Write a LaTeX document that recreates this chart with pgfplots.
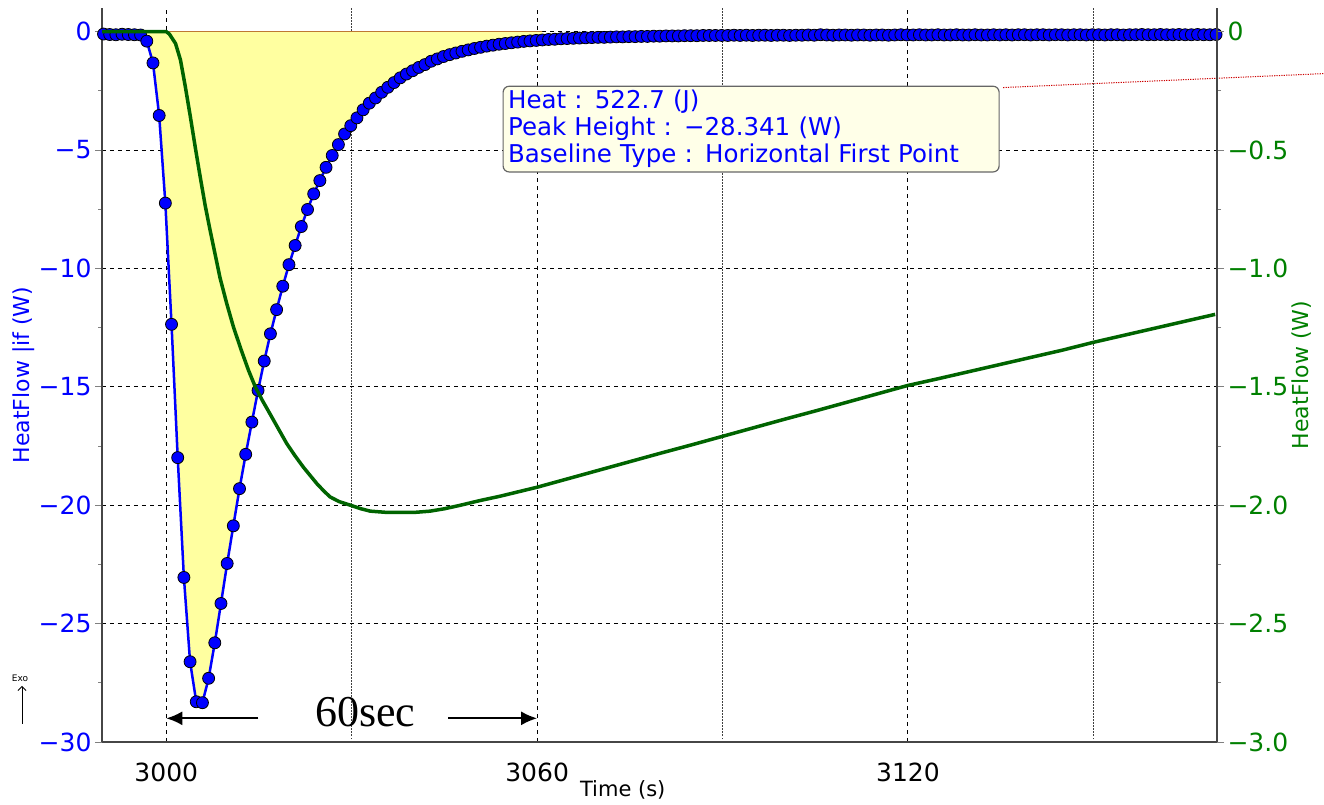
\documentclass[border=0pt]{standalone}
\usepackage{pgfplots}
\pgfplotsset{compat=1.18}
\usepackage{pgfplotstable}
\usepackage{fontspec}
\setmainfont{DejaVu Sans}
\newfontfamily\timesfont{Liberation Serif}
\usetikzlibrary{calc,arrows.meta}
\definecolor{hfblue}{RGB}{0,0,255}
\definecolor{hfgreen}{RGB}{0,100,0}
\definecolor{tickgreen}{RGB}{0,128,0}
\definecolor{fillyellow}{RGB}{255,255,160}
\definecolor{boxfill}{RGB}{255,255,232}
\definecolor{baselinebrown}{RGB}{190,120,50}
\definecolor{axisgray}{RGB}{70,70,70}

\pgfplotstableread{
t v
2989.85 -0.10
2990.85 -0.12
2991.85 -0.13
2992.85 -0.11
2993.85 -0.12
2994.85 -0.13
2995.85 -0.14
2996.85 -0.40
2997.85 -1.32
2998.85 -3.54
2999.85 -7.24
3000.85 -12.36
3001.85 -17.99
3002.85 -23.05
3003.85 -26.61
3004.85 -28.30
3005.85 -28.34
3006.85 -27.31
3007.85 -25.81
3008.85 -24.15
3009.85 -22.46
3010.85 -20.87
3011.85 -19.30
3012.85 -17.85
3013.85 -16.49
3014.85 -15.15
3015.85 -13.91
3016.85 -12.76
3017.85 -11.74
3018.85 -10.75
3019.85 -9.84
3020.85 -9.03
3021.85 -8.23
3022.85 -7.51
3023.85 -6.85
3024.85 -6.29
3025.85 -5.73
3026.85 -5.23
3027.85 -4.77
3028.85 -4.32
3029.85 -3.97
3030.85 -3.64
3031.85 -3.30
3032.85 -3.02
3033.85 -2.80
3034.85 -2.56
3035.85 -2.35
3036.85 -2.15
3037.85 -1.95
3038.85 -1.79
3039.85 -1.65
3040.85 -1.51
3041.85 -1.39
3042.85 -1.25
3043.85 -1.15
3044.85 -1.05
3045.85 -0.97
3046.85 -0.90
3047.85 -0.83
3048.85 -0.77
3049.85 -0.71
3050.85 -0.66
3051.85 -0.61
3052.85 -0.57
3053.85 -0.53
3054.85 -0.50
3055.85 -0.47
3056.85 -0.44
3057.85 -0.41
3058.85 -0.39
3059.85 -0.37
3060.85 -0.35
3061.85 -0.33
3062.85 -0.32
3063.85 -0.30
3064.85 -0.29
3065.85 -0.28
3066.85 -0.27
3067.85 -0.26
3068.85 -0.25
3069.85 -0.24
3070.85 -0.24
3071.85 -0.23
3072.85 -0.22
3073.85 -0.22
3074.85 -0.21
3075.85 -0.21
3076.85 -0.20
3077.85 -0.20
3078.85 -0.19
3079.85 -0.19
3080.85 -0.18
3081.85 -0.18
3082.85 -0.18
3083.85 -0.17
3084.85 -0.17
3085.85 -0.17
3086.85 -0.16
3087.85 -0.16
3088.85 -0.16
3089.85 -0.16
3090.85 -0.16
3091.85 -0.15
3092.85 -0.16
3093.85 -0.15
3094.85 -0.16
3095.85 -0.15
3096.85 -0.15
3097.85 -0.16
3098.85 -0.15
3099.85 -0.15
3100.85 -0.16
3101.85 -0.15
3102.85 -0.15
3103.85 -0.14
3104.85 -0.15
3105.85 -0.13
3106.85 -0.14
3107.85 -0.15
3108.85 -0.14
3109.85 -0.14
3110.85 -0.15
3111.85 -0.14
3112.85 -0.14
3113.85 -0.15
3114.85 -0.14
3115.85 -0.14
3116.85 -0.15
3117.85 -0.14
3118.85 -0.13
3119.85 -0.14
3120.85 -0.14
3121.85 -0.13
3122.85 -0.14
3123.85 -0.14
3124.85 -0.13
3125.85 -0.14
3126.85 -0.14
3127.85 -0.13
3128.85 -0.14
3129.85 -0.14
3130.85 -0.13
3131.85 -0.14
3132.85 -0.14
3133.85 -0.13
3134.85 -0.14
3135.85 -0.13
3136.85 -0.14
3137.85 -0.13
3138.85 -0.13
3139.85 -0.14
3140.85 -0.13
3141.85 -0.13
3142.85 -0.14
3143.85 -0.13
3144.85 -0.13
3145.85 -0.14
3146.85 -0.13
3147.85 -0.13
3148.85 -0.14
3149.85 -0.13
3150.85 -0.13
3151.85 -0.14
3152.85 -0.13
3153.85 -0.13
3154.85 -0.14
3155.85 -0.13
3156.85 -0.13
3157.85 -0.12
3158.85 -0.13
3159.85 -0.13
3160.85 -0.12
3161.85 -0.13
3162.85 -0.13
3163.85 -0.12
3164.85 -0.13
3165.85 -0.13
3166.85 -0.12
3167.85 -0.13
3168.85 -0.13
3169.85 -0.12
}\bluedata

\pgfplotstableread{
t v
2989.6 0
3000.0 0
3000.5 -0.01
3001.5 -0.05
3002.3 -0.12
3003.1 -0.235
3003.9 -0.36
3004.7 -0.49
3005.5 -0.615
3006.3 -0.735
3007.1 -0.84
3007.9 -0.94
3008.7 -1.04
3009.8 -1.15
3010.9 -1.25
3012.2 -1.35
3013.3 -1.43
3014.4 -1.50
3015.6 -1.56
3016.8 -1.615
3018.2 -1.68
3019.5 -1.74
3020.8 -1.79
3022.2 -1.84
3023.3 -1.875
3024.4 -1.91
3025.5 -1.94
3026.5 -1.965
3028.0 -1.985
3029.8 -2.00
3031.5 -2.015
3033.0 -2.025
3035.5 -2.03
3037.9 -2.03
3040.3 -2.03
3042.7 -2.025
3045.0 -2.015
3047.6 -2.00
3050.8 -1.98
3054.0 -1.962
3057.0 -1.943
3060.0 -1.924
3065.0 -1.888
3070.0 -1.852
3075.0 -1.816
3080.0 -1.780
3085.0 -1.745
3090.0 -1.709
3095.0 -1.673
3100.0 -1.637
3105.0 -1.602
3110.0 -1.566
3115.0 -1.530
3120.0 -1.494
3125.0 -1.465
3130.0 -1.435
3135.0 -1.405
3140.0 -1.375
3145.0 -1.345
3150.0 -1.312
3155.0 -1.282
3160.0 -1.252
3165.0 -1.222
3169.7 -1.194
}\greendata

\begin{document}
\begin{tikzpicture}
\begin{axis}[
  name=main,
  scale only axis, width=1115pt, height=734pt,
  xmin=2989.6, xmax=3170, ymin=-30, ymax=1,
  clip=false,
  axis x line*=bottom, axis y line*=left,
  axis line style={-, draw=axisgray, line width=1.5pt},
  xtick={3000,3060,3120}, xticklabels={3000,3060,3120},
  minor xtick={3030,3090,3150},
  ytick={-30,-25,-20,-15,-10,-5,0},
  yticklabels={−30,−25,−20,−15,−10,−5,0},
  minor ytick={-27.5,-22.5,-17.5,-12.5,-7.5,-2.5},
  xmajorgrids, xminorgrids, ymajorgrids,
  major grid style={black, line width=1pt, dash pattern=on 4pt off 4pt},
  minor grid style={black!75, line width=0.9pt, dash pattern=on 1.5pt off 1.5pt},
  tick align=outside,
  major tick length=7pt, minor tick length=4pt,
  xtick style={draw=none},
  ytick style={draw=gray, line width=1pt},
  ticklabel style={font=\fontsize{25}{25}\selectfont},
  xticklabel style={black, yshift=-10pt},
  yticklabel style={hfblue},
]
\coordinate (BL) at (rel axis cs:0,0);
\coordinate (TR) at (rel axis cs:1,1);
% peak area fill
\addplot[fill=fillyellow, draw=none, forget plot, restrict x to domain=2996:3061]
  table[x=t,y=v]{\bluedata} \closedcycle;
% baseline
\addplot[baselinebrown, line width=1.5pt, forget plot] coordinates {(2996.85,0) (3060.85,0)};
% residual red dotted line
\addplot[red!80!black, line width=1pt, dash pattern=on 1.2pt off 1.2pt, forget plot]
  coordinates {(3135.4,-2.36) (3187.4,-1.77)};
% HeatFlow |if
\addplot[hfblue, line width=2.5pt, mark=*, mark size=6pt,
  mark options={fill=hfblue, draw=black, line width=0.8pt}]
  table[x=t,y=v]{\bluedata};
% annotation box
\node[draw=black!60, line width=1.2pt, fill=boxfill, rounded corners=6pt,
  anchor=north west, text width=486pt, inner xsep=5pt, inner ysep=4pt,
  minimum height=85pt, align=left, text=hfblue,
  font=\fontsize{24.5}{27}\selectfont]
  at (axis cs:3054.4,-2.28)
  {Heat :\enspace 522.7 (J)\\Peak Height :\enspace −28.341 (W)\\Baseline Type :\enspace Horizontal First Point};
% 60 sec annotation
\draw[-{Latex[length=16pt,width=14pt]}, line width=2pt] (axis cs:3014.9,-29) -- (axis cs:3000,-29);
\draw[-{Latex[length=16pt,width=14pt]}, line width=2pt] (axis cs:3045.6,-29) -- (axis cs:3060,-29);
\node[font=\timesfont\fontsize{44}{44}\selectfont] at (axis cs:3032.2,-28.75) {60sec};
\end{axis}

\begin{axis}[
  scale only axis, width=1115pt, height=734pt,
  xmin=2989.6, xmax=3170, ymin=-3, ymax=0.1,
  axis x line=none, axis y line*=right,
  axis line style={-, draw=axisgray, line width=1.5pt},
  ytick={-3,-2.5,-2,-1.5,-1,-0.5,0},
  yticklabels={−3.0,−2.5,−2.0,−1.5,−1.0,−0.5,0},
  minor ytick={-2.75,-2.25,-1.75,-1.25,-0.75,-0.25},
  tick align=outside, major tick length=7pt, minor tick length=4pt,
  ytick style={draw=gray, line width=1pt},
  yticklabel style={tickgreen, font=\fontsize{25}{25}\selectfont},
]
\addplot[hfgreen, line width=3.5pt] table[x=t,y=v]{\greendata};
\end{axis}

% axis labels
\node[rotate=90, text=hfblue, font=\fontsize{22}{22}\selectfont] at ($(BL)!0.5!(BL|-TR)+(-78pt,0)$) {HeatFlow |if (W)};
\node[rotate=90, text=tickgreen, font=\fontsize{22}{22}\selectfont] at ($(TR|-BL)!0.5!(TR)+(85pt,0)$) {HeatFlow (W)};
\node[font=\fontsize{21}{21}\selectfont] at ($(BL)!0.467!(TR|-BL)+(0,-48pt)$) {Time (s)};
% Exo indicator
\node[font=\fontsize{9}{9}\selectfont] at ($(BL)+(-82pt,64pt)$) {Exo};
\draw[-{Straight Barb[length=4pt]}, line width=0.8pt] ($(BL)+(-80pt,18pt)$) -- ($(BL)+(-80pt,56pt)$);

\pgfresetboundingbox
\path ($(BL)+(-102pt,-63pt)$) rectangle ($(TR)+(107pt,8pt)$);
\end{tikzpicture}
\end{document}
